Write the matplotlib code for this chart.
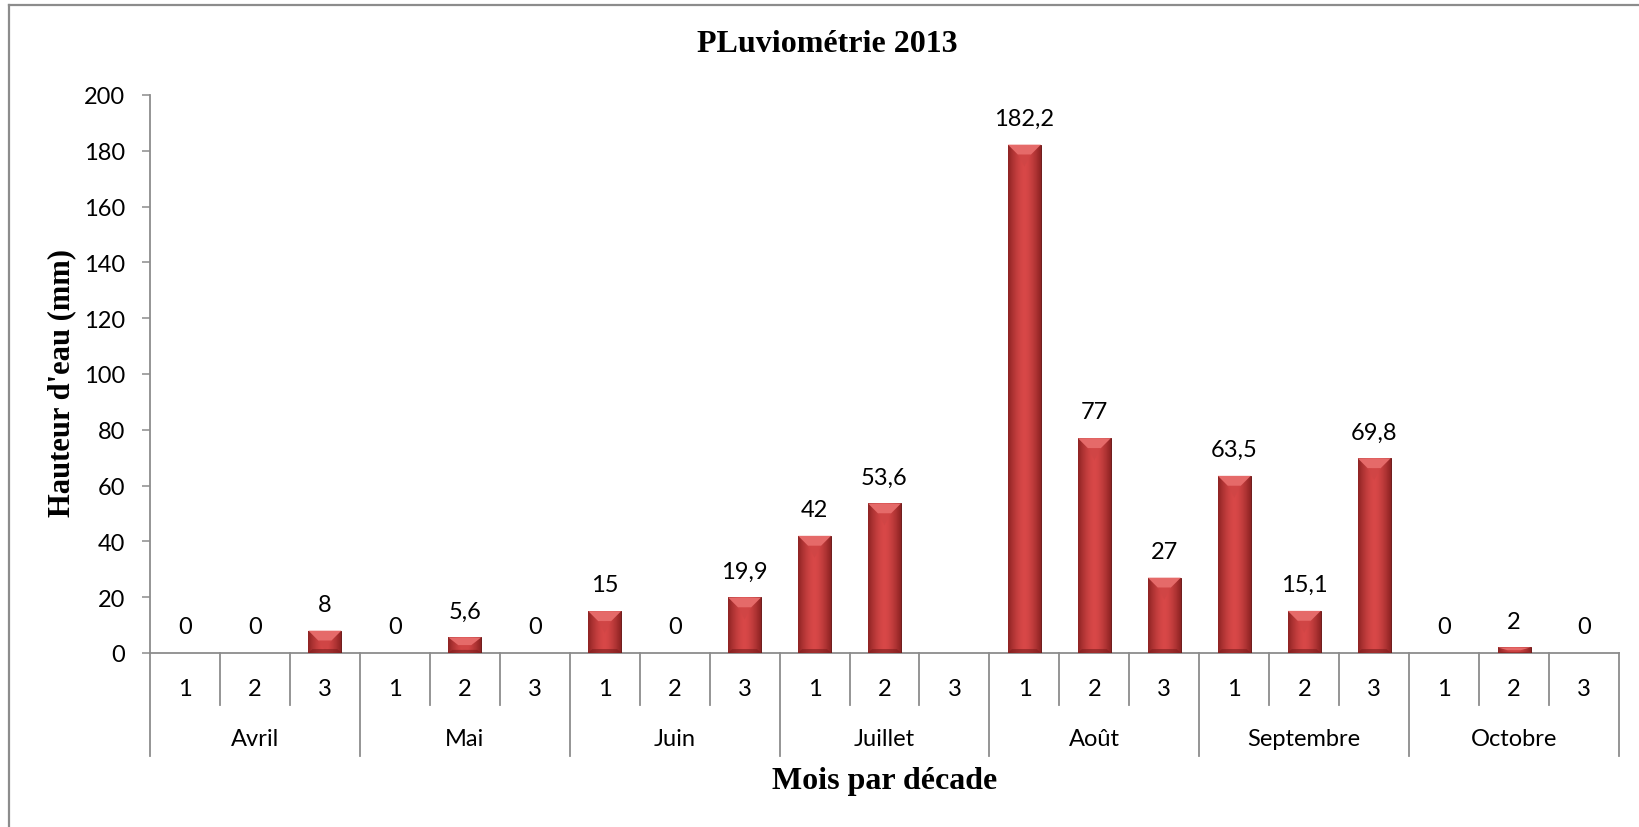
import numpy as np
import matplotlib
matplotlib.use("Agg")
import matplotlib.pyplot as plt
from matplotlib.patches import Polygon
from matplotlib.lines import Line2D
from matplotlib.colors import LinearSegmentedColormap
import matplotlib.transforms as mtransforms

# ---- data ----
months = ["Avril", "Mai", "Juin", "Juillet", "Août", "Septembre", "Octobre"]
decades = ["1", "2", "3"]
rain = [0, 0, 8,
        0, 5.6, 0,
        15, 0, 19.9,
        42, 53.6, np.nan,
        182.2, 77, 27,
        63.5, 15.1, 69.8,
        0, 2, 0]

TICK_FONT = "Lato"
SERIF = "Liberation Serif"
GRAY = "#8C8C8C"
FS = 17

W, H, DPI = 1639, 828, 100
fig = plt.figure(figsize=(W / DPI, H / DPI), dpi=DPI)
ax = fig.add_axes([150 / W, 1 - 654 / H, (1619 - 150) / W, (654 - 96) / H])

n = len(rain)
x = np.arange(n)
heights = np.nan_to_num(np.array(rain, dtype=float))
bars = ax.bar(x, heights, width=0.47, color="#C43B3C", edgecolor="#6E1A1A",
              linewidth=0.7, zorder=3)

ax.set_xlim(-0.5, n - 0.5)
ax.set_ylim(0, 200)

# bevel look: horizontal gradient + lighter top facet
grad = np.linspace(-1, 1, 64)
grad = np.vstack([1 - np.abs(grad) ** 1.6] * 2)
cmap = LinearSegmentedColormap.from_list("bev", ["#8E2323", "#D84848"])
px_x = (1619 - 150) / n          # pixels per x unit
px_y = (654 - 96) / 200.0        # pixels per mm
bev = 10.0
for b in bars:
    h = b.get_height()
    if h <= 0:
        continue
    x0, w = b.get_x(), b.get_width()
    im = ax.imshow(grad, cmap=cmap, aspect="auto", extent=(x0, x0 + w, 0, h),
                   zorder=3.1, interpolation="bilinear")
    im.set_clip_path(b)
    dx = min(bev / px_x, w / 2)
    dy = min(bev / px_y, h / 2)
    top = Polygon([(x0, h), (x0 + w, h), (x0 + w - dx, h - dy), (x0 + dx, h - dy)],
                  closed=True, facecolor="#E56A69", edgecolor="none", zorder=3.2)
    ax.add_patch(top)
    tri = Polygon([(x0 + dx, h - dy), (x0 + w - dx, h - dy),
                   (x0 + w / 2, h - min(2.2 * dy, h * 0.9))],
                  closed=True, facecolor="#CF4545", edgecolor="none", zorder=3.2, alpha=0.8)
    ax.add_patch(tri)
    botm = Polygon([(x0, 0), (x0 + w, 0), (x0 + w - dx * 0.4, dy * 0.4), (x0 + dx * 0.4, dy * 0.4)],
                   closed=True, facecolor="#7E1E1E", edgecolor="none", zorder=3.2, alpha=0.6)
    ax.add_patch(botm)
    outline = Polygon(b.get_verts(), closed=True, fill=False, edgecolor="#6E1A1A",
                      linewidth=0.8, zorder=3.3)
    ax.add_patch(outline)

# data labels
for xi, v in zip(x, rain):
    if np.isnan(v):
        continue
    txt = ("%g" % v).replace(".", ",")
    ax.annotate(txt, (xi, v), xytext=(0, 19), textcoords="offset points",
                ha="center", va="center", fontsize=FS, family=TICK_FONT, zorder=4)

# axes styling
for s in ["top", "right"]:
    ax.spines[s].set_visible(False)
for s in ["left", "bottom"]:
    ax.spines[s].set_color(GRAY)
    ax.spines[s].set_linewidth(1.3)
ax.set_yticks(np.arange(0, 201, 20))
ax.tick_params(axis="y", direction="out", length=6, width=1.1, color=GRAY,
               labelsize=FS, pad=12)
for t in ax.get_yticklabels():
    t.set_family(TICK_FONT)
ax.set_xticks([])

# multi-level category axis
trans = mtransforms.blended_transform_factory(ax.transData, ax.transAxes)
y_dec = -(706 - 654) / (654 - 96)
y_mon = -(757 - 654) / (654 - 96)
for i in range(n + 1):
    yb = y_mon if i % 3 == 0 else y_dec
    ax.add_line(Line2D([i - 0.5, i - 0.5], [0, yb], transform=trans, color=GRAY,
                       linewidth=1.3, clip_on=False))
for i in range(n):
    ax.text(i, -(690 - 654) / (654 - 96), decades[i % 3], transform=trans,
            ha="center", va="center", fontsize=FS, family=TICK_FONT)
for j, m in enumerate(months):
    ax.text(3 * j + 1, -(740 - 654) / (654 - 96), m, transform=trans,
            ha="center", va="center", fontsize=FS, family=TICK_FONT)

# titles
fig.text(827 / W, 1 - 44 / H, "PLuviométrie 2013", ha="center", va="center",
         fontsize=23, fontweight="bold", family=SERIF)
fig.text(885 / W, 1 - 782 / H, "Mois par décade", ha="center", va="center",
         fontsize=23, fontweight="bold", family=SERIF)
fig.text(62 / W, 1 - 383 / H, "Hauteur d'eau (mm)", ha="center", va="center",
         rotation=90, fontsize=22, fontweight="bold", family=SERIF)

# outer frame (runs off right and bottom edges)
fig.add_artist(Line2D([9 / W, 9 / W], [0, 1 - 6 / H], transform=fig.transFigure,
                      color=GRAY, linewidth=1.6))
fig.add_artist(Line2D([9 / W, 1], [1 - 6 / H, 1 - 6 / H], transform=fig.transFigure,
                      color=GRAY, linewidth=1.6))

fig.savefig("out.png", dpi=DPI)
